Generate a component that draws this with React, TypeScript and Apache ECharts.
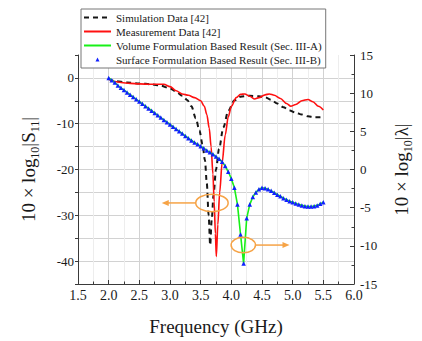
import React, { useEffect, useRef } from "react";
import * as echarts from "echarts";

const FONT = "Liberation Serif, Times New Roman, Times, serif";
const TXT = "#1a1a1a";
const AXIS = "#3a3a3a";
const ORANGE = "#f6a346";

// Simulation data [42] (left axis, dB)
const simFreq = [2.0, 2.1, 2.3, 2.5, 2.7, 2.85, 3.0, 3.1, 3.2, 3.28, 3.35, 3.42, 3.48, 3.53, 3.57, 3.6, 3.63, 3.655, 3.68, 3.71, 3.75, 3.8, 3.87, 3.95, 4.05, 4.15, 4.3, 4.45, 4.55, 4.65, 4.75, 4.85, 4.95, 5.05, 5.15, 5.25, 5.35, 5.45, 5.5];
const simS11 = [-0.2, -0.7, -1.0, -1.2, -1.4, -1.7, -2.3, -3.0, -3.9, -4.8, -6.2, -8.8, -11.5, -14.5, -18, -23, -30, -36.5, -31, -25.5, -20, -15.5, -10.8, -7.2, -4.9, -4.1, -3.9, -4.0, -4.2, -4.8, -5.6, -6.4, -7.1, -7.6, -8.0, -8.4, -8.6, -8.6, -8.5];

// Measurement data [42] (left axis, dB)
const measFreq = [2.0, 2.1, 2.2, 2.35, 2.5, 2.7, 2.9, 3.0, 3.1, 3.2, 3.3, 3.4, 3.5, 3.56, 3.6, 3.64, 3.67, 3.7, 3.72, 3.74, 3.755, 3.78, 3.81, 3.85, 3.9, 3.95, 4.0, 4.08, 4.15, 4.22, 4.3, 4.38, 4.45, 4.55, 4.62, 4.7, 4.8, 4.9, 4.97, 5.05, 5.15, 5.25, 5.33, 5.42, 5.5];
const measS11 = [-0.2, -0.8, -1.0, -1.2, -1.3, -1.4, -1.4, -1.9, -2.8, -3.5, -3.8, -4.3, -5.0, -6.2, -8, -11, -15, -21, -27, -34, -39, -32, -25, -18.5, -12.5, -8.5, -6.2, -4.3, -3.6, -3.5, -4.0, -4.6, -4.3, -3.7, -3.5, -3.8, -4.5, -5.6, -6.2, -5.8, -5.0, -4.7, -5.2, -6.2, -7.0];

// Volume / surface formulation results (right axis, 10 log10|lambda|)
const lambdaFreq = [2.0, 2.05, 2.1, 2.15, 2.2, 2.25, 2.3, 2.35, 2.4, 2.45, 2.5, 2.55, 2.6, 2.65, 2.7, 2.75, 2.8, 2.85, 2.9, 2.95, 3.0, 3.05, 3.1, 3.15, 3.2, 3.25, 3.3, 3.35, 3.4, 3.45, 3.5, 3.55, 3.6, 3.65, 3.7, 3.75, 3.8, 3.85, 3.9, 3.95, 4.0, 4.05, 4.1, 4.15, 4.2, 4.25, 4.3, 4.35, 4.4, 4.45, 4.5, 4.55, 4.6, 4.65, 4.7, 4.75, 4.8, 4.85, 4.9, 4.95, 5.0, 5.05, 5.1, 5.15, 5.2, 5.25, 5.3, 5.35, 5.4, 5.45, 5.5];
const lambdaDb = [12.0, 11.7, 11.4, 11.0, 10.7, 10.4, 10.1, 9.8, 9.5, 9.2, 8.9, 8.6, 8.3, 8.0, 7.7, 7.4, 7.1, 6.8, 6.5, 6.2, 5.9, 5.6, 5.3, 5.0, 4.7, 4.4, 4.1, 3.8, 3.55, 3.3, 3.05, 2.8, 2.5, 2.25, 2.0, 1.7, 1.4, 1.0, 0.45, -0.3, -1.2, -2.4, -4.6, -8.5, -12.3, -6.4, -4.6, -3.6, -3.0, -2.6, -2.4, -2.45, -2.6, -2.8, -3.05, -3.3, -3.5, -3.75, -3.95, -4.15, -4.3, -4.45, -4.6, -4.7, -4.8, -4.85, -4.85, -4.8, -4.7, -4.5, -4.3];

const seriesNames = [
  "Simulation Data [42]",
  "Measurement Data [42]",
  "Volume Formulation Based Result (Sec. III-A)",
  "Surface Formulation Based Result (Sec. III-B)",
];

// annotation anchors, in data units
const leftNote = [3.684, -27.3]; // left axis (S11)
const rightNote = [4.195, -9.9]; // right axis (lambda)

const pairs = (xs: number[], ys: number[]) => xs.map((x, i) => [x, ys[i]]);

const nameRich = {
  n: { fontFamily: FONT, fontSize: 19, color: TXT, lineHeight: 26, verticalAlign: "middle" },
  s: { fontFamily: FONT, fontSize: 12, color: TXT, lineHeight: 14, verticalAlign: "bottom" },
};

export default function App() {
  const ref = useRef<HTMLDivElement>(null);
  useEffect(() => {
    if (!ref.current) return;
    const chart = echarts.init(ref.current, null, { renderer: "svg" });
    const xLabel = { fontFamily: FONT, fontSize: 14, color: TXT };
    const yLabel = { fontFamily: FONT, fontSize: 13, color: TXT };
    chart.setOption({
      animation: false,
      backgroundColor: "#ffffff",
      textStyle: { fontFamily: FONT, color: TXT },
      grid: { left: 78, right: 56, top: 55, bottom: 53 },
      legend: {
        orient: "vertical",
        left: 81,
        top: 9,
        itemWidth: 27,
        itemHeight: 5,
        itemGap: 3,
        padding: [3, 4, 3, 2],
        backgroundColor: "#ffffff",
        borderColor: "#777777",
        borderWidth: 1,
        selectedMode: false,
        textStyle: { fontFamily: FONT, fontSize: 11, color: TXT, lineHeight: 11 },
        data: [
          { name: seriesNames[0], itemStyle: { opacity: 0 } },
          { name: seriesNames[1], itemStyle: { opacity: 0 } },
          { name: seriesNames[2], itemStyle: { opacity: 0 } },
          { name: seriesNames[3] },
        ],
      },
      xAxis: {
        type: "value",
        min: 1.5,
        max: 6,
        interval: 0.5,
        axisLine: { show: true, onZero: false, lineStyle: { color: AXIS, width: 1 } },
        axisTick: { show: true, inside: true, length: 4, lineStyle: { color: AXIS } },
        minorTick: { show: true, splitNumber: 2, length: 2.5, lineStyle: { color: AXIS } },
        axisLabel: { ...xLabel, margin: 4, formatter: (v: number) => v.toFixed(1) },
        splitLine: { show: true, lineStyle: { color: "#d2d2d2", width: 1 } },
        minorSplitLine: { show: true, lineStyle: { color: "#ededed", width: 1 } },
        name: "Frequency (GHz)",
        nameLocation: "middle",
        nameGap: 33,
        nameTextStyle: { fontFamily: FONT, fontSize: 19, color: TXT },
      },
      yAxis: [
        {
          type: "value",
          position: "left",
          min: -45,
          max: 5,
          interval: 5,
          axisLine: { show: true, onZero: false, lineStyle: { color: AXIS, width: 1 } },
          axisTick: { show: true, inside: false, length: 3, lineStyle: { color: AXIS } },
          axisLabel: {
            ...yLabel,
            margin: 4,
            formatter: (v: number) => (Math.round(v) % 10 === 0 ? String(Math.round(v)) : ""),
          },
          splitLine: { show: true, showMaxLine: false, lineStyle: { color: "#d2d2d2", width: 1 } },
          name: "{n|10 × log}{s|10}{n||S}{s|11}{n||}",
          nameLocation: "middle",
          nameRotate: 90,
          nameGap: 37,
          nameTextStyle: { fontFamily: FONT, fontSize: 19, color: TXT, rich: nameRich },
        },
        {
          type: "value",
          position: "right",
          min: -15,
          max: 15,
          interval: 5,
          axisLine: { show: true, onZero: false, lineStyle: { color: AXIS, width: 1 } },
          axisTick: { show: true, inside: true, length: 4, lineStyle: { color: AXIS } },
          minorTick: { show: true, splitNumber: 2, length: 2.5, lineStyle: { color: AXIS } },
          axisLabel: { ...yLabel, margin: 6 },
          splitLine: { show: false },
          name: "{n|10 × log}{s|10}{n||λ|}",
          nameLocation: "middle",
          nameRotate: 90,
          nameGap: 34,
          nameTextStyle: { fontFamily: FONT, fontSize: 19, color: TXT, rich: nameRich },
        },
      ],
      series: [
        {
          name: seriesNames[0],
          type: "line",
          yAxisIndex: 0,
          data: pairs(simFreq, simS11),
          symbol: "none",
          smooth: 0.3,
          smoothMonotone: "x",
          lineStyle: { color: "#161616", width: 2, type: [5, 4] },
          itemStyle: { color: "#161616" },
          z: 2,
        },
        {
          name: seriesNames[1],
          type: "line",
          yAxisIndex: 0,
          data: pairs(measFreq, measS11),
          symbol: "none",
          smooth: 0.3,
          smoothMonotone: "x",
          lineStyle: { color: "#ff1010", width: 1.6 },
          itemStyle: { color: "#ff1010" },
          z: 3,
        },
        {
          name: seriesNames[2],
          type: "line",
          yAxisIndex: 1,
          data: pairs(lambdaFreq, lambdaDb),
          symbol: "none",
          lineStyle: { color: "#18f018", width: 1.6 },
          itemStyle: { color: "#18f018" },
          z: 4,
        },
        {
          name: seriesNames[3],
          type: "line",
          yAxisIndex: 1,
          data: pairs(lambdaFreq, lambdaDb),
          symbol: "triangle",
          symbolSize: 4.5,
          showSymbol: true,
          showAllSymbol: true,
          lineStyle: { opacity: 0, width: 0 },
          itemStyle: { color: "#1020ff" },
          z: 5,
        },
      ],
    });

    const p1 = chart.convertToPixel({ seriesIndex: 0 }, leftNote) as number[];
    const p2 = chart.convertToPixel({ seriesIndex: 2 }, rightNote) as number[];
    const rx1 = 16.2, ry1 = 8.7, rx2 = 12.2, ry2 = 7.8;
    const len = 34, head = 7, hw = 3;
    const l0 = p1[0] - rx1;
    const lTip = l0 - len;
    const r0 = p2[0] + rx2;
    const rTip = r0 + len;
    const stroke = { stroke: ORANGE, lineWidth: 1.5, fill: "none" };
    chart.setOption({
      graphic: [
        { type: "ellipse", shape: { cx: p1[0], cy: p1[1], rx: rx1, ry: ry1 }, style: stroke, z: 20 },
        { type: "line", shape: { x1: l0, y1: p1[1], x2: lTip + head - 1, y2: p1[1] }, style: stroke, z: 20 },
        {
          type: "polygon",
          shape: { points: [[lTip, p1[1]], [lTip + head, p1[1] - hw], [lTip + head, p1[1] + hw]] },
          style: { fill: ORANGE },
          z: 20,
        },
        { type: "ellipse", shape: { cx: p2[0], cy: p2[1], rx: rx2, ry: ry2 }, style: stroke, z: 20 },
        { type: "line", shape: { x1: r0, y1: p2[1], x2: rTip - head + 1, y2: p2[1] }, style: stroke, z: 20 },
        {
          type: "polygon",
          shape: { points: [[rTip, p2[1]], [rTip - head, p2[1] - hw], [rTip - head, p2[1] + hw]] },
          style: { fill: ORANGE },
          z: 20,
        },
      ],
    });
    return () => chart.dispose();
  }, []);
  return (
    <div
      ref={ref}
      style={{ position: "fixed", left: 0, top: 0, width: 422, height: 341, background: "#fff" }}
    />
  );
}
